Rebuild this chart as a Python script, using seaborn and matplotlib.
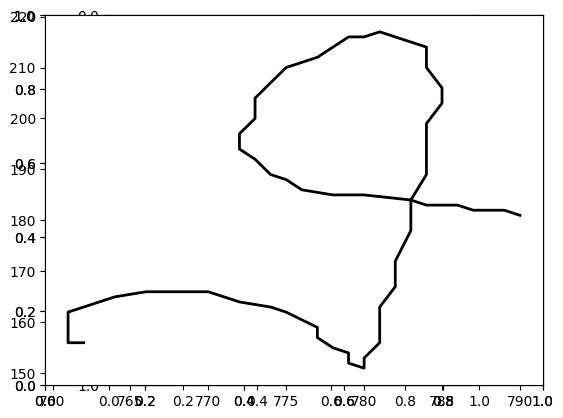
import matplotlib
matplotlib.use("Agg")
from matplotlib import pyplot as plt
import seaborn as sns

# path vertices
xs = [762, 761, 761, 764, 766, 770, 772, 774, 775, 777, 777, 778, 779, 779,
      780, 780, 781, 781, 782, 782, 783, 783, 784, 784, 785, 785, 784, 784,
      781, 780, 779, 777, 775, 773, 773, 772, 772, 773, 774, 775, 776, 778,
      780, 783, 784, 786, 787, 789, 790]
ys = [156, 156, 162, 165, 166, 166, 164, 163, 162, 159, 157, 155, 154, 152,
      151, 153, 156, 163, 167, 172, 178, 184, 189, 199, 203, 206, 210, 214,
      217, 216, 216, 212, 210, 204, 200, 197, 194, 192, 189, 188, 186, 185,
      185, 184, 183, 183, 182, 182, 181]

fig = plt.figure(figsize=(5.63, 4.18), dpi=100)
rect = [0.0808, 0.0789, 0.8828, 0.8852]

# empty square axes left behind (image-style, y inverted)
ax_img = fig.add_axes(rect, label="img")
ax_img.set_xlim(0, 1)
ax_img.set_ylim(1, 0)
ax_img.set_aspect("equal")

# two blank axes stacked on the same spot
ax_b = fig.add_axes(rect, label="blank1")
ax_c = fig.add_axes(rect, label="blank2")

# the actual line
ax = fig.add_axes(rect, label="main")
sns.lineplot(x=xs, y=ys, sort=False, estimator=None, color="black",
             linewidth=2, ax=ax)

fig.savefig("out.png", dpi=100)
